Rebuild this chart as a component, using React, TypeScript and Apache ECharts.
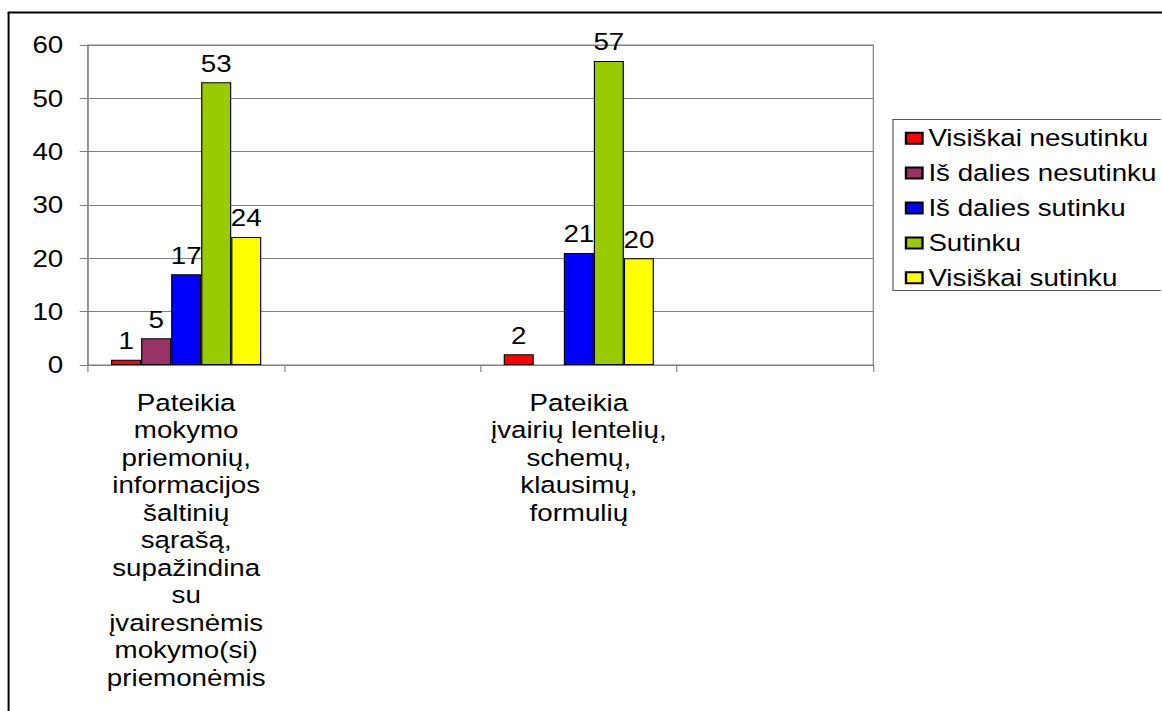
import React, { useEffect, useRef } from "react";
import * as echarts from "echarts";

// Category labels (blank slots keep the empty columns between the two statements)
const categories = [
  "Pateikia\nmokymo\npriemonių,\ninformacijos\nšaltinių\nsąrašą,\nsupažindina\nsu\nįvairesnėmis\nmokymo(si)\npriemonėmis",
  "",
  "Pateikia\nįvairių lentelių,\nschemų,\nklausimų,\nformulių",
  " ",
];

const seriesNames = [
  "Visiškai nesutinku",
  "Iš dalies nesutinku",
  "Iš dalies sutinku",
  "Sutinku",
  "Visiškai sutinku",
];

const visiskaiNesutinku = [1, null, 2, null];
const isDaliesNesutinku = [5, null, null, null];
const isDaliesSutinku = [17, null, 21, null];
const sutinku = [53, null, 57, null];
const visiskaiSutinku = [24, null, 20, null];

const seriesColors = ["#FF0000", "#993366", "#0000FF", "#99CC00", "#FFFF00"];

const yTicks = { min: 0, max: 60, interval: 10 };

// The chart is laid out narrower and widened horizontally, giving the broad lettering
const STRETCH = 1.18;
const PAGE_W = 1162;
const PAGE_H = 711;
const W = PAGE_W / STRETCH;

const FONT = "'Liberation Sans', Arial, sans-serif";
const FS = 23.5;
const GRAY = "#808080";

// Legend frame: open on the right, where it runs out to the edge of the page
const LEGEND_LEFT = 893 / STRETCH;
const LEGEND_TOP = 119.5;
const LEGEND_BOTTOM = 290.5;

export default function App() {
  const ref = useRef<HTMLDivElement>(null);

  useEffect(() => {
    if (!ref.current) return;
    const chart = echarts.init(ref.current, undefined, { renderer: "svg" });

    const values = [
      visiskaiNesutinku,
      isDaliesNesutinku,
      isDaliesSutinku,
      sutinku,
      visiskaiSutinku,
    ];

    chart.setOption({
      animation: false,
      backgroundColor: "#FFFFFF",
      textStyle: { fontFamily: FONT },
      graphic: [
        {
          type: "line",
          shape: { x1: 6.5, y1: 12.5, x2: W, y2: 12.5 },
          style: { stroke: "#000", lineWidth: 2 },
          silent: true,
        },
        {
          type: "line",
          shape: { x1: 7.3, y1: 12, x2: 7.3, y2: PAGE_H },
          style: { stroke: "#000", lineWidth: 1.7 },
          silent: true,
        },
        {
          type: "polyline",
          shape: {
            points: [
              [W - 1, LEGEND_TOP],
              [LEGEND_LEFT, LEGEND_TOP],
              [LEGEND_LEFT, LEGEND_BOTTOM],
              [W - 1, LEGEND_BOTTOM],
            ],
          },
          style: { fill: "none", stroke: "#555", lineWidth: 1 },
          silent: true,
        },
      ],
      grid: {
        left: 88 / STRETCH,
        right: W - 873 / STRETCH,
        top: 45,
        bottom: PAGE_H - 365,
        show: true,
        borderColor: GRAY,
        borderWidth: 1,
        backgroundColor: "transparent",
      },
      legend: {
        orient: "vertical",
        left: LEGEND_LEFT,
        top: 119,
        padding: [7.2, 0, 2.6, 10],
        itemGap: 10.9,
        itemWidth: 14,
        itemHeight: 11,
        icon: "rect",
        data: seriesNames,
        textStyle: {
          fontFamily: FONT,
          fontSize: FS,
          lineHeight: FS,
          color: "#000",
        },
      },
      xAxis: {
        type: "category",
        data: categories,
        axisLine: { show: true, lineStyle: { color: GRAY, width: 1 } },
        axisTick: {
          show: true,
          interval: 0,
          alignWithLabel: false,
          length: 7,
          lineStyle: { color: GRAY },
        },
        axisLabel: {
          interval: 0,
          fontFamily: FONT,
          fontSize: FS,
          lineHeight: 27.5,
          margin: 24,
          color: "#000",
          align: "center",
        },
        splitLine: { show: false },
      },
      yAxis: {
        type: "value",
        min: yTicks.min,
        max: yTicks.max,
        interval: yTicks.interval,
        axisLine: { show: true, lineStyle: { color: GRAY, width: 1 } },
        axisTick: { show: true, length: 7, lineStyle: { color: GRAY } },
        axisLabel: {
          fontFamily: FONT,
          fontSize: FS,
          margin: 21,
          color: "#000",
        },
        splitLine: { show: true, lineStyle: { color: GRAY, width: 1 } },
      },
      series: seriesNames.map((name, i) => ({
        name,
        type: "bar",
        data: values[i],
        barGap: "0%",
        barCategoryGap: "23.5%",
        itemStyle: {
          color: seriesColors[i],
          borderColor: "#000",
          borderWidth: 1,
        },
        label: {
          show: true,
          position: "top",
          distance: 7,
          fontFamily: FONT,
          fontSize: FS,
          color: "#000",
        },
      })),
    });

    return () => chart.dispose();
  }, []);

  return (
    <div
      ref={ref}
      style={{
        position: "fixed",
        left: 0,
        top: 0,
        width: W,
        height: PAGE_H,
        transform: `scaleX(${STRETCH})`,
        transformOrigin: "0 0",
        background: "#FFFFFF",
      }}
    />
  );
}
